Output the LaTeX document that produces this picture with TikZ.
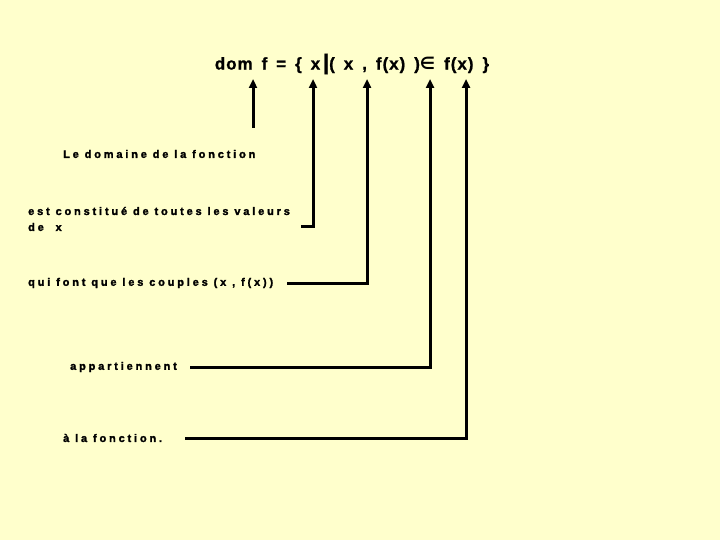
\documentclass[tikz,border=0pt]{standalone}
\usepackage{fontspec}
\setmainfont{Liberation Sans}
\newfontfamily\titlefont[LetterSpace=6,FakeBold=1]{Liberation Sans Bold}
\newfontfamily\labelfont[LetterSpace=26,FakeBold=2]{Liberation Sans Bold}
\newfontfamily\symfont{DejaVu Sans Bold}
\usetikzlibrary{arrows.meta}
\definecolor{paper}{RGB}{255,255,204}
\def\tipy{79}
\def\linew{3bp}

\begin{document}
\begin{tikzpicture}[
        x=1bp,y=-1bp,
        title/.style={font=\titlefont\fontsize{17}{19}\selectfont,inner sep=0pt},
        note/.style={font=\labelfont\fontsize{11}{16}\selectfont,
            inner sep=0pt,anchor=west,align=left},
        link/.style={line width=\linew,-{Triangle[length=9bp,width=8bp]}},
    ]
    \fill[paper] (0,0) rectangle (720,540);
    \useasboundingbox (0,0) rectangle (720,540);

    \node[title] (dom) at (352,64)
        {\spaceskip=9bp\relax dom f = \{ x\,{\fontsize{22}{22}\selectfont|}( x , f(x) ){\symfont ∈} f(x) \}};

    % arrow tips under the formula
    \coordinate (tipdom) at (253,\tipy);
    \coordinate (tipx) at (313,\tipy);
    \coordinate (tipcouple) at (367,\tipy);
    \coordinate (tipin) at (430,\tipy);
    \coordinate (tipf) at (466,\tipy);
    \coordinate (footdom) at (253,128);

    \node[note] (domaine) at (63,154) {Le domaine de la fonction};
    \node[note] (valeurs) at (28,219) {est constitué de toutes les valeurs\\de\ \ x};
    \node[note] (couples) at (28,283) {qui font que les couples (x , f(x))};
    \node[note] (appart) at (70,367) {appartiennent};
    \node[note] (fonction) at (63,438) {à la fonction.};

    \draw[link] (footdom) -- (tipdom);
    \draw[link] ([xshift=11bp,yshift=-8bp]valeurs.east) -| (tipx);
    \draw[link] ([xshift=14bp]couples.east) -| (tipcouple);
    \draw[link] ([xshift=13bp]appart.east) -| (tipin);
    \draw[link] ([xshift=23bp]fonction.east) -| (tipf);

\end{tikzpicture}
\end{document}
